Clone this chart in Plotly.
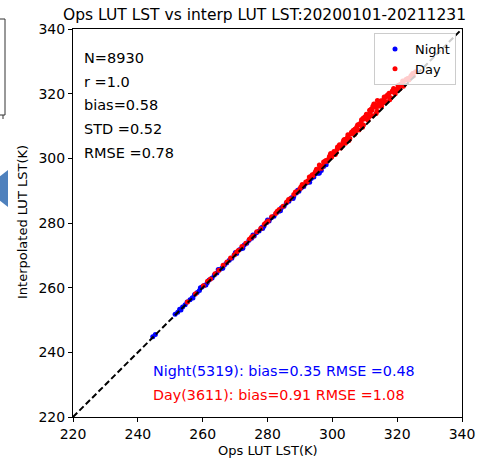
import plotly.graph_objects as go

axis_min = 220
axis_max = 340
tick_vals = [220, 240, 260, 280, 300, 320, 340]

night_x = [244.6, 245.4, 251.5, 252.3, 252.9, 253.8, 254.6, 255.2, 256.1, 256.8, 257.5, 258.3, 259.0, 259.8,
           260.5, 261.4, 262.0, 262.9, 263.6, 264.4, 265.1, 265.9, 266.7, 267.4, 268.2, 269.0, 269.7, 270.5,
           271.3, 272.0, 272.8, 273.6, 274.3, 275.1, 275.9, 276.6, 277.4, 278.2, 278.9, 279.7, 280.5, 281.2,
           282.0, 282.8, 283.5, 284.3, 285.1, 285.8, 286.6, 287.4, 288.1, 288.9, 289.7, 290.4, 291.2, 292.0,
           292.7, 293.5, 294.3, 295.0, 295.8, 296.6, 297.3, 298.1, 270.1, 275.5, 280.0, 259.3, 264.8, 289.3,
           253.3, 257.0, 261.0, 266.2, 272.4, 278.5, 284.0, 287.9, 293.0, 296.0]
night_y = [244.8, 245.5, 251.8, 252.4, 253.3, 254.0, 254.7, 255.6, 256.3, 256.9, 257.9, 258.5, 259.1, 260.2,
           260.7, 261.5, 262.4, 263.0, 263.9, 264.5, 265.5, 266.0, 267.0, 267.6, 268.5, 269.1, 270.1, 270.6,
           271.7, 272.1, 273.2, 273.7, 274.7, 275.3, 276.0, 277.0, 277.5, 278.6, 279.0, 280.1, 280.6, 281.6,
           282.1, 283.2, 283.6, 284.7, 285.2, 286.2, 286.7, 287.8, 288.2, 289.3, 289.8, 290.8, 291.3, 292.4,
           292.8, 293.8, 294.2, 295.3, 295.4, 296.2, 297.5, 298.0, 270.9, 276.3, 280.9, 260.0, 265.6, 290.1,
           253.1, 256.8, 260.8, 266.0, 272.2, 278.3, 283.8, 287.6, 292.6, 295.5]

day_x = [255.3, 257.8, 260.2, 261.5, 262.4, 263.8, 265.0, 266.3, 267.5, 268.6, 269.8, 271.0, 272.1, 273.3,
         274.4, 275.6, 276.7, 277.9, 279.0, 280.2, 281.3, 282.5, 283.6, 284.8, 285.9, 287.0, 288.1, 289.2,
         290.3, 291.0, 291.8, 292.5, 293.3, 294.0, 294.8, 295.5, 296.2, 297.0, 297.7, 298.4, 299.1, 299.8,
         300.5, 301.2, 301.9, 302.6, 303.3, 304.0, 304.7, 305.4, 306.1, 306.8, 307.5, 308.2, 308.9, 309.6,
         310.3, 311.0, 311.7, 312.4, 313.1, 313.8, 314.5, 315.2, 315.9, 316.6, 317.3, 318.0, 318.7, 319.4,
         320.1, 320.8, 321.5, 322.2, 322.9, 323.6, 324.3, 325.0, 325.7,
         290.0, 292.2, 294.5, 296.6, 298.8, 300.9, 303.0, 305.1, 307.2, 309.3, 311.4, 313.5, 315.6, 317.7,
         319.8, 321.9, 324.0, 308.5, 310.8, 312.0, 312.8, 314.0, 316.2, 302.2, 305.8, 296.0, 299.5,
         286.5, 288.6, 290.7, 292.9, 295.1, 297.3, 299.4, 301.6, 303.7, 305.9, 308.0, 310.1, 312.2, 314.3,
         316.4, 318.5, 320.6, 322.7, 324.8, 301.5, 304.3, 307.0, 309.8, 311.1, 313.3, 315.0, 317.0, 319.0,
         321.0, 323.2, 298.0, 293.8, 283.0, 279.5, 275.0, 270.5,
         303.5, 304.8, 306.4, 307.8, 309.0, 310.5, 311.9, 313.0, 314.8, 316.0, 317.5, 318.9, 320.3, 321.7,
         306.9, 309.5, 311.5, 313.9, 312.5, 310.0]
day_y = [255.6, 258.1, 260.6, 262.0, 262.7, 264.3, 265.4, 266.9, 267.9, 269.2, 270.2, 271.5, 272.7, 273.7,
         275.0, 276.0, 277.3, 278.3, 279.6, 280.6, 281.9, 282.9, 284.2, 285.2, 286.5, 287.5, 288.8, 289.7,
         291.1, 291.5, 292.7, 293.1, 294.3, 294.6, 295.9, 296.2, 297.4, 297.6, 299.0, 299.1, 300.6, 300.4,
         302.1, 301.9, 303.6, 303.2, 305.0, 304.7, 306.5, 306.1, 308.0, 307.4, 309.6, 308.8, 311.2, 310.3,
         312.6, 311.8, 314.3, 313.2, 316.5, 314.6, 317.0, 316.0, 318.3, 317.4, 319.2, 318.7, 320.5, 320.0,
         321.6, 321.5, 323.0, 322.8, 324.3, 324.2, 325.6, 325.5, 326.8,
         290.6, 292.6, 295.3, 296.9, 299.7, 301.2, 303.9, 305.5, 308.4, 309.6, 312.9, 313.9, 317.1, 318.1,
         320.9, 322.3, 325.0, 310.6, 313.4, 315.2, 316.8, 316.0, 318.9, 304.2, 307.6, 297.9, 301.5,
         287.3, 289.6, 291.9, 294.2, 296.6, 298.9, 301.2, 303.5, 305.8, 308.1, 310.4, 312.6, 314.9, 317.0,
         319.0, 320.8, 322.6, 324.4, 326.2, 302.9, 306.0, 309.0, 312.2, 312.7, 315.8, 317.8, 319.6, 321.2,
         322.9, 324.7, 299.3, 294.9, 283.6, 280.1, 275.6, 271.0,
         305.6, 307.3, 308.6, 310.3, 311.9, 313.6, 315.0, 316.7, 317.6, 319.0, 320.1, 321.6, 322.5, 323.9,
         308.9, 312.4, 314.9, 317.9, 316.1, 312.8]

stats_lines = ["N=8930", "r =1.0", "bias=0.58", "STD =0.52", "RMSE =0.78"]
night_text = "Night(5319): bias=0.35 RMSE =0.48"
day_text = "Day(3611): bias=0.91 RMSE =1.08"
title_text = "Ops LUT LST vs interp LUT LST:20200101-20211231"

FONT = "DejaVu Sans"
W, H = 479, 459
L, R, T, B = 73, 462, 29, 417  # plot area in pixels


def px(x):
    return (x - L) / (R - L)


def py(y):
    return (B - y) / (B - T)


fig = go.Figure()
fig.add_trace(go.Scatter(x=night_x, y=night_y, mode="markers", name="Night",
                         marker=dict(color="blue", size=5, line=dict(width=0))))
fig.add_trace(go.Scatter(x=day_x, y=day_y, mode="markers", name="Day",
                         marker=dict(color="red", size=5, line=dict(width=0))))
fig.add_trace(go.Scatter(x=[axis_min, axis_max], y=[axis_min, axis_max], mode="lines",
                         line=dict(color="black", width=2, dash="6px,3px"), showlegend=False,
                         hoverinfo="skip"))

annotations = []
ys = [58, 82, 105, 129, 153]
for txt, yy in zip(stats_lines, ys):
    annotations.append(dict(text=txt, x=px(82), y=py(yy), xref="paper", yref="paper",
                            xanchor="left", yanchor="middle", showarrow=False,
                            font=dict(family=FONT, size=14.5, color="black")))
annotations.append(dict(text=night_text, x=px(151), y=py(371), xref="paper", yref="paper",
                        xanchor="left", yanchor="middle", showarrow=False,
                        font=dict(family=FONT, size=14.3, color="blue")))
annotations.append(dict(text=day_text, x=px(151), y=py(395), xref="paper", yref="paper",
                        xanchor="left", yanchor="middle", showarrow=False,
                        font=dict(family=FONT, size=14.3, color="red")))
annotations.append(dict(text=title_text, x=px(264), y=py(15), xref="paper", yref="paper",
                        xanchor="center", yanchor="middle", showarrow=False,
                        font=dict(family=FONT, size=15.5, color="black")))
annotations.append(dict(text="Ops LUT LST(K)", x=px(268), y=py(451), xref="paper", yref="paper",
                        xanchor="center", yanchor="middle", showarrow=False,
                        font=dict(family=FONT, size=13, color="black")))
annotations.append(dict(text="Interpolated LUT LST(K)", x=px(22), y=py(222), xref="paper", yref="paper",
                        xanchor="center", yanchor="middle", showarrow=False, textangle=-90,
                        font=dict(family=FONT, size=13, color="black")))

shapes = [
    # cropped neighbouring graphic remnants on the left edge
    dict(type="path", xref="paper", yref="paper",
         path=f"M {px(-2)},{py(19)} L {px(5)},{py(19)} L {px(5)},{py(115)} L {px(-2)},{py(115)}",
         line=dict(color="#333333", width=1)),
    dict(type="line", xref="paper", yref="paper", x0=px(3), x1=px(3), y0=py(115), y1=py(119),
         line=dict(color="#333333", width=1)),
    dict(type="path", xref="paper", yref="paper",
         path=f"M {px(-1)},{py(177)} L {px(8)},{py(170)} L {px(8)},{py(207)} L {px(-1)},{py(200)} Z",
         fillcolor="#4f81bd", line=dict(width=0)),
]

axis_common = dict(range=[axis_min, axis_max], tickvals=tick_vals, showgrid=False, zeroline=False,
                   showline=True, linecolor="black", linewidth=1, mirror=True, automargin=False,
                   ticks="outside", ticklen=4, tickwidth=1, tickcolor="black",
                   tickfont=dict(family=FONT, size=14, color="black"))

fig.update_layout(
    width=W, height=H,
    margin=dict(l=L, r=W - R, t=T, b=H - B, autoexpand=False),
    plot_bgcolor="white", paper_bgcolor="white",
    xaxis=dict(**axis_common),
    yaxis=dict(**axis_common),
    legend=dict(x=px(456), y=py(33), xanchor="right", yanchor="top",
                bgcolor="rgba(255,255,255,0.8)", bordercolor="#cccccc", borderwidth=1,
                font=dict(family=FONT, size=13, color="black"), itemwidth=30,
                tracegroupgap=0),
    annotations=annotations,
    shapes=shapes,
    showlegend=True,
)

fig.write_html("out.html")
